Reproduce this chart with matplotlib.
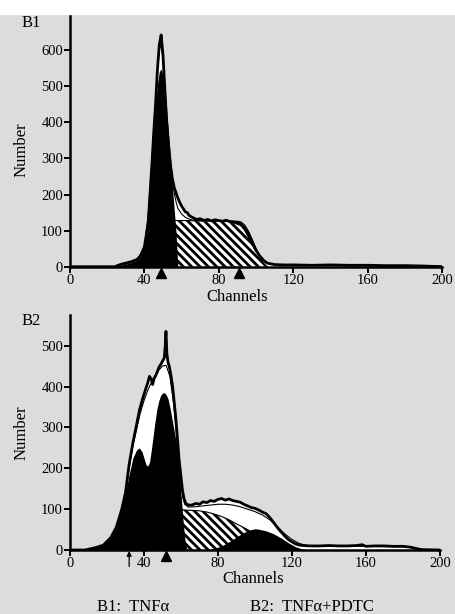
import matplotlib
matplotlib.use('Agg')
import matplotlib.pyplot as plt
from matplotlib.patches import Rectangle

plt.rcParams['font.family'] = ['Liberation Serif', 'DejaVu Serif']
plt.rcParams['hatch.linewidth'] = 2.0
plt.rcParams['hatch.color'] = 'black'

# ---- B1: TNFa ----
b1_raw_ch = [0, 24, 27, 30, 33, 36, 38, 40, 42, 44, 45, 46, 47, 48, 49, 50, 51, 52, 53, 54,
             55, 56, 57, 58, 59, 60, 61, 62, 63, 64, 66, 68, 70, 72, 74, 76, 78, 80, 82, 84,
             86, 88, 90, 92, 94, 96, 98, 100, 102, 104, 106, 110, 115, 120, 130, 140, 150,
             160, 170, 180, 190, 200]
b1_raw = [0, 0, 6, 10, 14, 20, 30, 55, 120, 280, 370, 450, 545, 615, 642, 585, 490, 400, 330, 280,
          245, 220, 205, 190, 178, 168, 160, 152, 150, 142, 136, 131, 133, 128, 131, 127, 130, 128, 126, 129,
          125, 124, 120, 116, 104, 86, 64, 45, 30, 18, 10, 6, 5, 5, 4, 5, 4,
          4, 3, 3, 2, 0]
b1_fit_ch = [24, 28, 32, 36, 40, 42, 44, 46, 47, 48, 49, 50, 51, 52, 53, 54, 55, 56, 57, 58,
             60, 62, 64, 66, 70, 80, 90, 92, 94, 96, 98, 100, 102, 104, 106, 110, 120, 160, 200]
b1_fit = [0, 5, 10, 18, 55, 140, 290, 450, 540, 600, 615, 580, 500, 430, 365, 305, 250, 205, 180, 162,
          146, 137, 132, 129, 127, 126, 124, 121, 111, 95, 74, 51, 31, 17, 9, 5, 4, 3, 2]
b1_g1_ch = [24, 28, 32, 36, 38, 40, 41, 42, 43, 44, 45, 46, 47, 48, 49, 50, 51, 52, 53, 54,
            55, 56, 57, 57.5, 58]
b1_g1 = [0, 5, 10, 18, 28, 55, 95, 150, 220, 285, 370, 440, 505, 540, 548, 530, 480, 410, 345, 285,
         225, 160, 95, 45, 0]
b1_s_ch = [56, 57, 60, 70, 80, 90, 92, 94, 96, 98, 100, 102, 104, 106]
b1_s = [128, 128, 128, 127, 127, 126, 124, 115, 98, 75, 50, 28, 10, 0]
b1_marks = [49, 91]

# ---- B2: TNFa + PDTC ----
b2_raw_ch = [0, 8, 10, 14, 18, 22, 25, 28, 30, 32, 34, 35.8, 37.6, 39.4, 41, 42, 43, 44, 44.7, 45.5,
             46.5, 47.5, 48.3, 49.2, 50, 51, 51.5, 51.9, 52.4, 53, 53.7, 54.5, 55.5, 56.4, 57.3, 58, 59, 60, 60.8, 61.7,
             62.6, 64, 66, 68, 70, 72, 74, 76, 78, 80, 82, 84, 86, 88, 90, 92, 94, 96, 98, 100,
             102, 104, 106, 108, 110, 112, 114, 116, 118, 120, 122, 124, 126, 130, 135, 140, 145, 150, 155, 158,
             160, 165, 170, 175, 180, 184, 187, 190, 200]
b2_raw = [0, 0, 2, 6, 12, 30, 55, 100, 140, 210, 262, 302, 343, 372, 395, 408, 425, 418, 405, 420,
          428, 440, 449, 455, 462, 470, 500, 535, 480, 460, 449, 430, 400, 360, 319, 280, 221, 180, 147, 125,
          114, 110, 110, 114, 112, 118, 116, 121, 119, 124, 126, 122, 125, 121, 119, 117, 112, 108, 104, 102,
          98, 93, 89, 80, 68, 56, 45, 35, 26, 20, 15, 12, 11, 10, 10, 11, 10, 10, 11, 13,
          9, 10, 10, 9, 9, 7, 4, 1, 0]
b2_fit_ch = [8, 14, 20, 25, 28, 30, 32, 34, 36, 38, 40, 42, 44, 46, 48, 50, 52, 54, 56, 57,
             58, 59, 60, 61, 62, 64, 68, 72, 76, 80, 84, 88, 92, 96, 100, 104, 108, 112, 116, 120,
             124, 128, 140, 160, 180, 185, 188, 191]
b2_fit = [0, 5, 15, 50, 95, 135, 200, 255, 295, 335, 365, 390, 410, 425, 440, 450, 452, 425, 360, 310,
          260, 210, 165, 130, 112, 105, 106, 108, 110, 112, 112, 110, 106, 100, 94, 86, 74, 58, 40, 26,
          16, 11, 9, 9, 8, 6, 3, 0]
b2_g1_ch = [8, 12, 16, 20, 23, 26, 28, 30, 32, 34, 36, 37.5, 39, 40, 41, 42, 43, 44, 45, 46,
            47, 48, 49, 50, 51, 52, 53, 54, 55, 56, 57, 58, 59, 60, 61, 62, 63, 64]
b2_g1 = [0, 3, 10, 22, 45, 75, 105, 140, 185, 225, 245, 250, 240, 225, 210, 205, 215, 245, 280, 315,
         345, 365, 378, 384, 385, 380, 370, 350, 325, 300, 275, 250, 200, 140, 80, 30, 5, 0]
b2_s_ch = [60, 61.7, 66, 70, 74, 78, 82, 86, 90, 94, 98, 102, 106, 110, 114]
b2_s = [99, 98, 97, 96, 93, 88, 82, 74, 64, 55, 45, 35, 22, 10, 0]
b2_g2_ch = [74, 78, 82, 86, 90, 94, 98, 100, 102, 106, 110, 114, 118, 122, 126, 130]
b2_g2 = [0, 4, 10, 20, 32, 43, 50, 52, 51, 47, 40, 30, 18, 8, 2, 0]
b2_mark = 52
b2_arrow = 32

xticks = [0, 40, 80, 120, 160, 200]


def draw_panel(ax, raw_ch, raw, fit_ch, fit, s_ch, s, g_list, ymax, ystep):
    ax.set_facecolor('none')
    ax.fill_between(raw_ch, raw, color='white', lw=0, zorder=1)
    ax.fill_between(fit_ch, fit, color='white', lw=0, zorder=1)
    ax.fill_between(s_ch, s, facecolor='white', edgecolor='black', hatch='\\\\\\\\', lw=0, zorder=2)
    for g_ch, g in g_list:
        ax.fill_between(g_ch, g, color='black', lw=0, zorder=3)
    ax.plot(s_ch, s, color='black', lw=0.8, zorder=3)
    ax.plot(fit_ch, fit, color='black', lw=0.8, zorder=4)
    ax.plot(raw_ch, raw, color='black', lw=2.0, zorder=5)
    ax.set_xlim(0, 200)
    ax.set_ylim(0, ymax)
    ax.set_xticks(xticks)
    ax.set_yticks(range(0, ymax, ystep))
    for side in ['top', 'right']:
        ax.spines[side].set_visible(False)
    for side in ['left', 'bottom']:
        ax.spines[side].set_linewidth(1.8)
    ax.tick_params(axis='both', direction='out', length=4, width=1.4, labelsize=10.5, pad=1)


fig = plt.figure(figsize=(4.56, 6.14), dpi=100, facecolor='#dcdcdc')
fig.patches.append(Rectangle((0, 0.978), 1, 0.022, transform=fig.transFigure, color='white', zorder=0))

ax1 = fig.add_axes([0.1535, 0.5656, 0.8158, 0.4116])
draw_panel(ax1, b1_raw_ch, b1_raw, b1_fit_ch, b1_fit, b1_s_ch, b1_s,
           [(b1_g1_ch, b1_g1)], 700, 100)
ax1.plot(b1_marks, [-0.025] * len(b1_marks), ls='none', marker='^', ms=7, color='black',
         transform=ax1.get_xaxis_transform(), clip_on=False, zorder=6)

ax2 = fig.add_axes([0.1535, 0.1042, 0.811, 0.3827])
draw_panel(ax2, b2_raw_ch, b2_raw, b2_fit_ch, b2_fit, b2_s_ch, b2_s,
           [(b2_g1_ch, b2_g1), (b2_g2_ch, b2_g2)], 575, 100)
ax2.plot([b2_mark], [-0.027], ls='none', marker='^', ms=7, color='black',
         transform=ax2.get_xaxis_transform(), clip_on=False, zorder=6)
ax2.annotate('', xy=(b2_arrow, -0.004), xytext=(b2_arrow, -0.07),
             xycoords=ax2.get_xaxis_transform(), textcoords=ax2.get_xaxis_transform(),
             arrowprops=dict(arrowstyle='-|>', color='black', lw=0.9, mutation_scale=7,
                             shrinkA=0, shrinkB=0))

fig.text(0.048, 0.9625, 'B1', fontsize=12, va='center', ha='left')
fig.text(0.048, 0.478, 'B2', fontsize=12, va='center', ha='left')
fig.text(0.048, 0.756, 'Number', fontsize=12, rotation=90, va='center', ha='center')
fig.text(0.048, 0.295, 'Number', fontsize=12, rotation=90, va='center', ha='center')
fig.text(0.52, 0.516, 'Channels', fontsize=12, va='center', ha='center')
fig.text(0.555, 0.057, 'Channels', fontsize=12, va='center', ha='center')
fig.text(0.292, 0.0114, 'B1:  TNFα', fontsize=12, va='center', ha='center')
fig.text(0.684, 0.0114, 'B2:  TNFα+PDTC', fontsize=12, va='center', ha='center')

fig.savefig('out.png', dpi=100, facecolor=fig.get_facecolor())
